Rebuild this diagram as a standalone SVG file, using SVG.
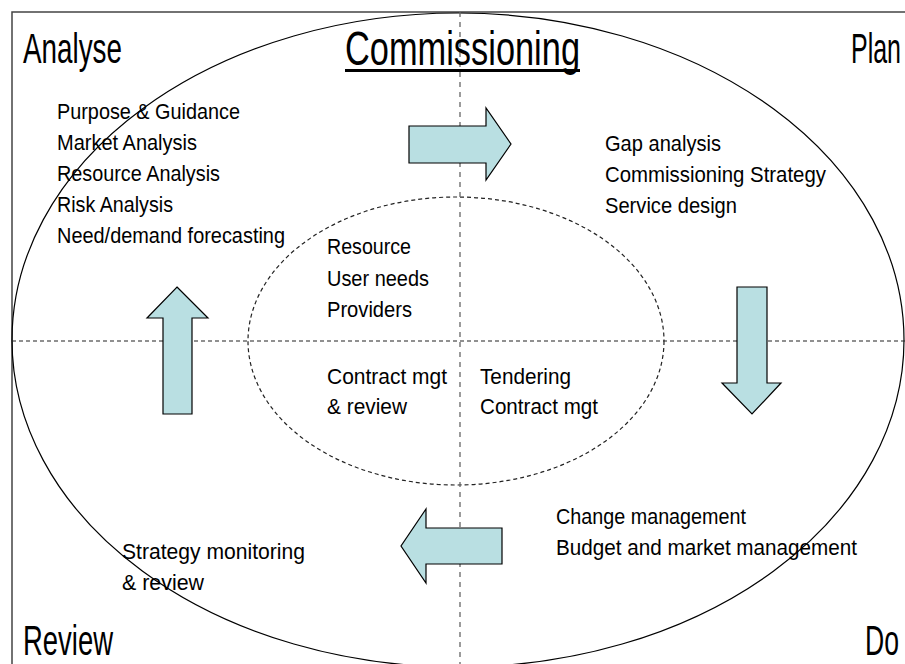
<svg xmlns="http://www.w3.org/2000/svg" width="905" height="664" viewBox="0 0 905 664">
<defs>
<style>
text { font-family: "Liberation Sans", Arial, sans-serif; fill: #000; }
.big { font-size: 42px; }
.title { font-size: 49px; }
.body { font-size: 22px; }
.arrow { fill: #B9DFE2; stroke: #000; stroke-width: 1.2; stroke-linejoin: miter; }
.dashV { stroke: #666; stroke-width: 1.3; stroke-dasharray: 5 5; fill: none; }
.dashH { stroke: #222; stroke-width: 1.2; stroke-dasharray: 4 3; fill: none; }
</style>
</defs>
<rect x="0" y="0" width="905" height="664" fill="#fff"/>
<rect x="12" y="12" width="905" height="665" fill="none" stroke="#444" stroke-width="1.5"/>

<g id="outer-ellipse">
<ellipse cx="458" cy="340" rx="446" ry="327" fill="none" stroke="#000" stroke-width="1.2"/>
</g>
<g id="inner-ellipse">
<ellipse cx="456" cy="341" rx="208" ry="144" class="dashH"/>
</g>
<g id="axes">
<line x1="460" y1="12" x2="460" y2="664" class="dashV"/>
<line x1="12" y1="341" x2="905" y2="341" class="dashH"/>
</g>

<g id="connectors">
<path class="arrow" d="M409,126 L486,126 L486,108 L511,144 L486,180 L486,163 L409,163 Z"/>
<path class="arrow" d="M737,287 L767,287 L767,383 L781,383 L752,414 L722,383 L737,383 Z"/>
<path class="arrow" d="M502,528 L426,528 L426,509 L401,546 L426,583 L426,564 L502,564 Z"/>
<path class="arrow" d="M177,287 L208,318 L192,318 L192,414 L163,414 L163,318 L147,318 Z"/>
</g>

<g id="label-analyse"><text class="big" x="23" y="63" textLength="99" lengthAdjust="spacingAndGlyphs">Analyse</text></g>
<g id="label-plan"><text class="big" x="851" y="63" textLength="50" lengthAdjust="spacingAndGlyphs">Plan</text></g>
<g id="label-review"><text class="big" x="23" y="655" textLength="90" lengthAdjust="spacingAndGlyphs">Review</text></g>
<g id="label-do"><text class="big" x="865" y="655" textLength="34" lengthAdjust="spacingAndGlyphs">Do</text></g>

<g id="title">
<text class="title" x="345" y="65" textLength="235" lengthAdjust="spacingAndGlyphs">Commissioning</text>
<rect x="345" y="69" width="235" height="3" fill="#000"/>
</g>

<g id="analyse-items">
<text class="body" x="57" y="119" textLength="183" lengthAdjust="spacingAndGlyphs">Purpose &amp; Guidance</text>
<text class="body" x="57" y="150" textLength="140" lengthAdjust="spacingAndGlyphs">Market Analysis</text>
<text class="body" x="57" y="181" textLength="163" lengthAdjust="spacingAndGlyphs">Resource Analysis</text>
<text class="body" x="57" y="212" textLength="116" lengthAdjust="spacingAndGlyphs">Risk Analysis</text>
<text class="body" x="57" y="243" textLength="228" lengthAdjust="spacingAndGlyphs">Need/demand forecasting</text>
</g>

<g id="plan-items">
<text class="body" x="605" y="151" textLength="116" lengthAdjust="spacingAndGlyphs">Gap analysis</text>
<text class="body" x="605" y="182" textLength="221" lengthAdjust="spacingAndGlyphs">Commissioning Strategy</text>
<text class="body" x="605" y="213" textLength="132" lengthAdjust="spacingAndGlyphs">Service design</text>
</g>

<g id="inner-analyse">
<text class="body" x="327" y="254" textLength="84" lengthAdjust="spacingAndGlyphs">Resource</text>
<text class="body" x="327" y="286" textLength="102" lengthAdjust="spacingAndGlyphs">User needs</text>
<text class="body" x="327" y="317" textLength="85" lengthAdjust="spacingAndGlyphs">Providers</text>
</g>

<g id="inner-review">
<text class="body" x="327" y="384" textLength="120" lengthAdjust="spacingAndGlyphs">Contract mgt</text>
<text class="body" x="327" y="414" textLength="80" lengthAdjust="spacingAndGlyphs">&amp; review</text>
</g>

<g id="inner-do">
<text class="body" x="480" y="384" textLength="91" lengthAdjust="spacingAndGlyphs">Tendering</text>
<text class="body" x="480" y="414" textLength="118" lengthAdjust="spacingAndGlyphs">Contract mgt</text>
</g>

<g id="do-items">
<text class="body" x="556" y="524" textLength="190" lengthAdjust="spacingAndGlyphs">Change management</text>
<text class="body" x="556" y="555" textLength="301" lengthAdjust="spacingAndGlyphs">Budget and market management</text>
</g>

<g id="review-items">
<text class="body" x="122" y="559" textLength="183" lengthAdjust="spacingAndGlyphs">Strategy monitoring</text>
<text class="body" x="122" y="590" textLength="82" lengthAdjust="spacingAndGlyphs">&amp; review</text>
</g>
</svg>
